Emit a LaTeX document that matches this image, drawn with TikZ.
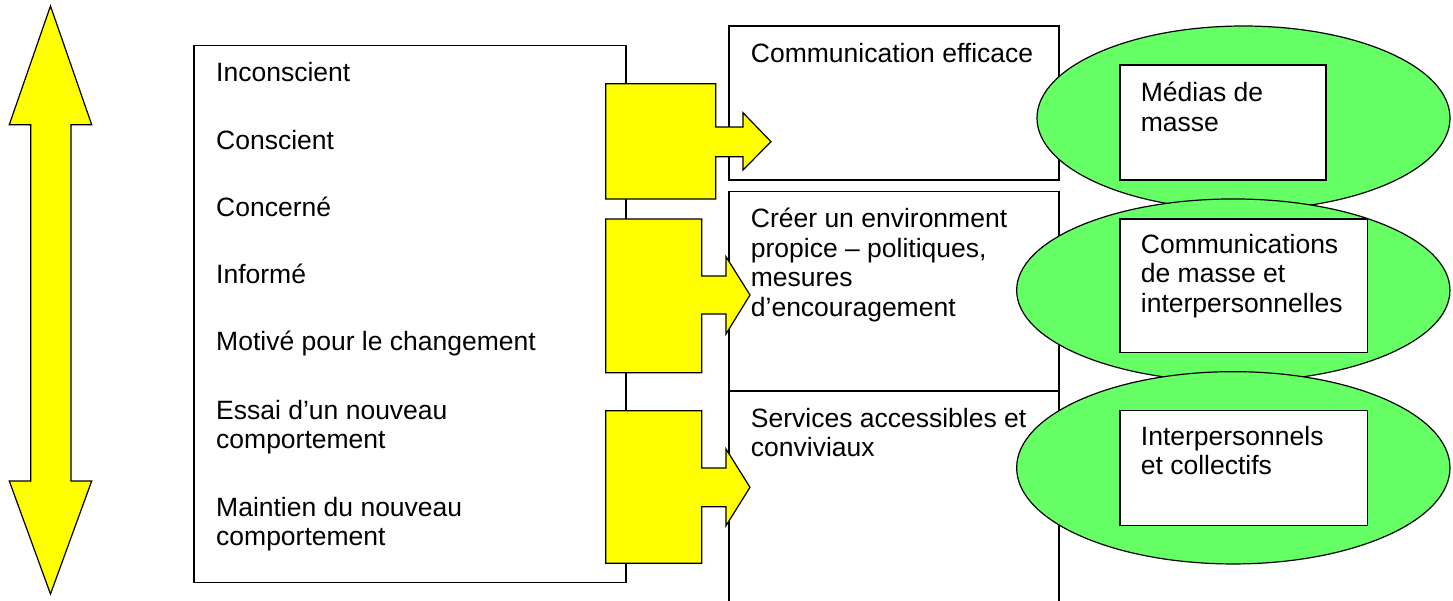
\documentclass[tikz,border=0pt]{standalone}
\usepackage{fontspec}
\setmainfont{Liberation Sans}
\usepackage{tikz}
\usetikzlibrary{shapes.geometric}
\definecolor{zonegreen}{HTML}{66FF66}
\definecolor{arrowyellow}{HTML}{FFFF00}

\begin{document}
\begin{tikzpicture}
      [
      x=1pt, y=-1pt,
      every node/.style={font=\fontsize{26.5}{29.5}\selectfont},
      box/.style={draw=black,fill=white,line width=1.2pt,rectangle,inner sep=0pt,outer sep=0pt,anchor=north west},
      txt/.style={anchor=base west,align=left,inner sep=0pt},
      zone/.style={draw=black,fill=zonegreen,line width=1.2pt,ellipse,inner sep=0pt},
      blockarrow/.style={draw=black,fill=arrowyellow,line width=1.2pt,line join=miter},
      ]
      \clip (0,0) rectangle (1453,600);
      % double arrow on the left
      \draw[blockarrow] (50.5,6) -- (91.7,124.7) -- (71,124.7) -- (71,481) -- (91.7,481)
        -- (50.5,594) -- (9.3,481) -- (30.7,481) -- (30.7,124.7) -- (9.3,124.7) -- cycle;
      % stages of change (multi-line texts sit on their last baseline)
      \node[box,minimum width=432pt,minimum height=537pt] (stages) at (194,45.7) {};
      \node[txt] (inconscient) at (216,81.7) {Inconscient};
      \node[txt] (conscient) at (216,149) {Conscient};
      \node[txt] (concerne) at (216,216.3) {Concerné};
      \node[txt] (informe) at (216,283.6) {Informé};
      \node[txt] (motive) at (216,350.9) {Motivé pour le changement};
      \node[txt] (essai) at (216,448.8) {Essai d’un nouveau\\comportement};
      \node[txt] (maintien) at (216,545.5) {Maintien du nouveau\\comportement};
      % strategies
      \node[box,minimum width=330pt,minimum height=154pt] (eff) at (729,26) {};
      \node[box,minimum width=330pt,minimum height=199.3pt] (env) at (729,191.7) {};
      \node[box,minimum width=330pt,minimum height=215pt] (serv) at (729,391) {};
      \node[txt] (efftext) at (750.7,62) {Communication efficace};
      \node[txt] (envtext) at (750.7,316.2) {Créer un environment\\propice – politiques,\\mesures\\d’encouragement};
      \node[txt] (servtext) at (750.7,456.5) {Services accessibles et\\conviviaux};
      % block arrows
      \draw[blockarrow] (605.7,83.7) -- (715.7,83.7) -- (715.7,127) -- (743,127) -- (743,112.7)
        -- (771,141.7) -- (743,170) -- (743,156.7) -- (715.7,156.7) -- (715.7,199) -- (605.7,199) -- cycle;
      \draw[blockarrow] (605.7,219) -- (701.7,219) -- (701.7,276) -- (726,276) -- (726,256.7)
        -- (750,295) -- (726,334) -- (726,314) -- (701.7,314) -- (701.7,372.7) -- (605.7,372.7) -- cycle;
      \draw[blockarrow] (605.7,410.7) -- (701.7,410.7) -- (701.7,468) -- (726,468) -- (726,449)
        -- (750,487.3) -- (726,525.7) -- (726,506.7) -- (701.7,506.7) -- (701.7,563.3) -- (605.7,563.3) -- cycle;
      % channels
      \node[zone,minimum width=413pt,minimum height=184pt] (masszone) at (1243.5,118) {};
      \node[box,minimum width=206pt,minimum height=115pt] (mass) at (1120,65) {};
      \node[txt] (masstext) at (1140.7,131.2) {Médias de\\masse};
      \node[zone,minimum width=433.3pt,minimum height=182.7pt] (mixzone) at (1233.3,290.3) {};
      \node[box,minimum width=247.7pt,minimum height=133.7pt] (mix) at (1120,219) {};
      \node[txt] (mixtext) at (1140.7,312) {Communications\\de masse et\\interpersonnelles};
      \node[zone,minimum width=433.3pt,minimum height=192.3pt] (interzone) at (1233.3,467.8) {};
      \node[box,minimum width=247.7pt,minimum height=115pt] (inter) at (1120,410.7) {};
      \node[txt] (intertext) at (1140.7,474.5) {Interpersonnels\\et collectifs};
    \end{tikzpicture}
\end{document}
